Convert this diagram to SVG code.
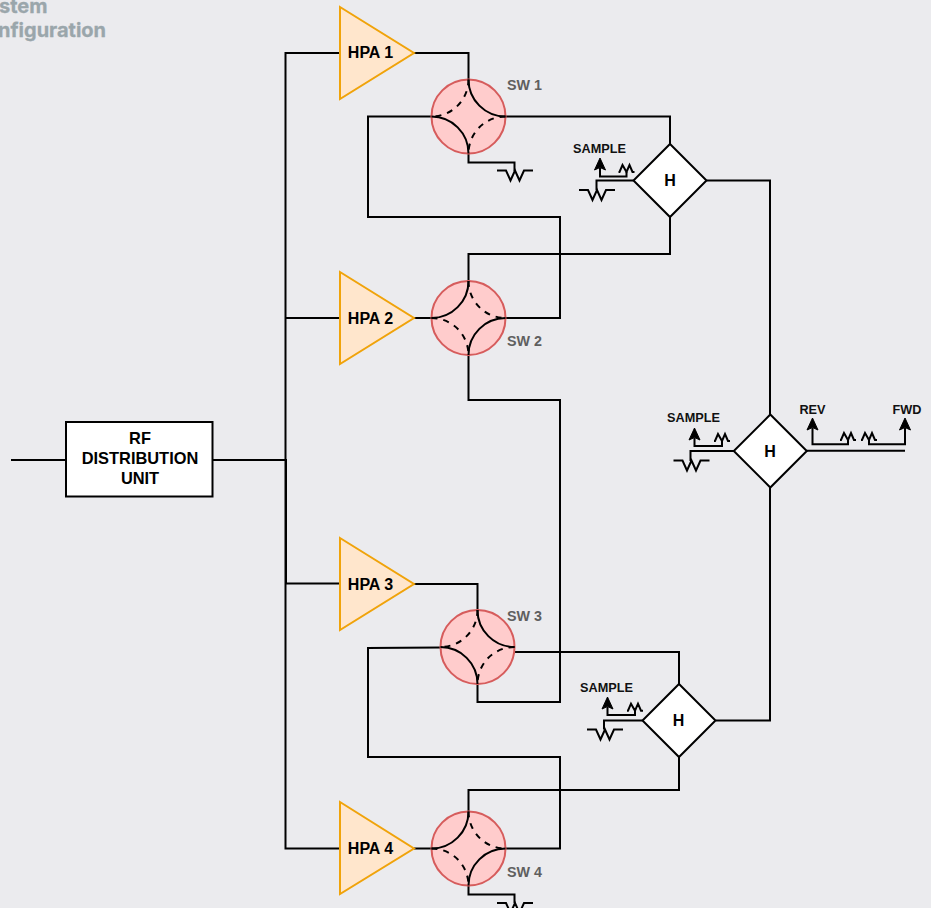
<svg xmlns="http://www.w3.org/2000/svg" width="931" height="908" viewBox="0 0 931 908">
<style>
text{font-family:"Liberation Sans",Arial,sans-serif;font-weight:700;text-anchor:middle;fill:#000}
.w{fill:none;stroke:#000;stroke-width:2}
.m{fill:none;stroke:#000;stroke-width:2}
.t{font-size:16px}
.rf{font-size:16.400px}
.s{font-size:12.700px;fill:#111}
.sw{font-size:14.300px;fill:#5f5f5f;text-anchor:start}
.title{font-family:Inter,"Liberation Sans",sans-serif;font-size:20px;fill:#9aa6ab;stroke:#9aa6ab;stroke-width:.3;text-anchor:start}
.hpa{fill:#ffe6cc;stroke:#f0a30a;stroke-width:2}
.sc{fill:#ffcccc;stroke:#d65c5c;stroke-width:2}
.d{fill:#fff;stroke:#000;stroke-width:2}
.dash{fill:none;stroke:#000;stroke-width:2;stroke-dasharray:6 6}
</style>
<defs>
<g id="res"><path class="w" d="M-18,0H-9L-4.500,10L0,0L4.500,10L9,0H18"/></g>
<g id="mini"><path class="m" d="M-8,0H-7L-4,-7L0,0L3,-7L6,0H8"/></g>
<path id="arr" d="M0,0L5.500,12L0,9.500L-5.500,12Z" fill="#000" stroke="#000"/>
<g id="swA"><circle class="sc" r="37"/><path class="w" d="M0,-37A37,37 0 0 0 37,0M-37,0A37,37 0 0 1 0,37"/><path class="dash" d="M0,-37A37,37 0 0 1 -37,0M37,0A37,37 0 0 0 0,37"/></g>
<g id="swB"><circle class="sc" r="37"/><path class="w" d="M0,-37A37,37 0 0 1 -37,0M37,0A37,37 0 0 0 0,37"/><path class="dash" d="M0,-37A37,37 0 0 0 37,0M-37,0A37,37 0 0 1 0,37"/></g>
</defs>
<rect width="931" height="908" fill="#ebebee"/>
<text class="title" x="-1" y="13">stem</text>
<text class="title" x="-2" y="37">nfiguration</text>
<g id="connectors">
<path class="w" d="M11,460H66"/>
<path class="w" d="M213,460H285.500V53H340"/>
<path class="w" d="M285.500,318H340"/>
<path class="w" d="M213,460H286V583.500H340"/>
<path class="w" d="M285.500,460V848.500H340"/>
<path class="w" d="M414,53H468.500V80"/>
<path class="w" d="M414,318H431.500"/>
<path class="w" d="M414,584H477.500V610"/>
<path class="w" d="M414,848.500H431.500"/>
<path class="w" d="M505.500,116.500H670V144"/>
<path class="w" d="M431.500,116.500H368V217H560V318H505.500"/>
<path class="w" d="M468.500,153.500V162.500H514.500V171"/>
<path class="w" d="M670,217V254H468.500V281"/>
<path class="w" d="M706.500,180.500H770V414.500"/>
<path class="w" d="M468.500,355V400H560V702H477.500V684"/>
<path class="w" d="M514.500,652H679V684"/>
<path class="w" d="M440.500,647.500L368,648V757H560V848.500H505.500"/>
<path class="w" d="M679,757V790H468.500V812"/>
<path class="w" d="M716,720.500H770V487.500"/>
<path class="w" d="M468.500,885.500V894.500H514.500V903"/>
<path class="w" d="M633.500,180.500H596.500V190"/>
<path class="w" d="M600,168V176.500H626.500V172"/>
<path class="w" d="M734,451H690.500V461"/>
<path class="w" d="M694.500,438V446H722V441"/>
<path class="w" d="M806.500,450.700H905"/>
<path class="w" d="M812.500,428V444.300H848V440M869,440V444.300H905V428"/>
<path class="w" d="M642.500,720.500H604V729.500"/>
<path class="w" d="M607.500,707V715H635V710.700"/>
<use href="#arr" x="600" y="158"/>
<use href="#arr" x="694.500" y="428"/>
<use href="#arr" x="812.500" y="418"/>
<use href="#arr" x="905" y="418"/>
<use href="#arr" x="607.500" y="697"/>
<use href="#res" x="515" y="170.500"/>
<use href="#res" x="597" y="190"/>
<use href="#res" x="691.500" y="460.500"/>
<use href="#res" x="605" y="729.500"/>
<use href="#res" x="515" y="903"/>
<use href="#mini" x="626.500" y="172"/>
<use href="#mini" x="722" y="441"/>
<use href="#mini" x="848" y="440"/>
<use href="#mini" x="869" y="440"/>
<use href="#mini" x="635" y="710.700"/>
</g>
<g id="rf"><rect x="66" y="422" width="146.500" height="74.500" fill="#fff" stroke="#000" stroke-width="2"/><text class="rf" x="140" y="444">RF</text><text class="rf" x="140" y="464">DISTRIBUTION</text><text class="rf" x="140" y="484">UNIT</text></g>
<g id="hpa1"><path class="hpa" d="M340,7L414,53L340,99Z"/><text class="t" x="370.500" y="58">HPA 1</text></g>
<g id="hpa2"><path class="hpa" d="M340,272L414,318L340,364Z"/><text class="t" x="370.500" y="324">HPA 2</text></g>
<g id="hpa3"><path class="hpa" d="M340,538L414,584L340,630Z"/><text class="t" x="370.500" y="590">HPA 3</text></g>
<g id="hpa4"><path class="hpa" d="M340,802L414,848.500L340,894Z"/><text class="t" x="370.500" y="854">HPA 4</text></g>
<g id="sw1"><use href="#swA" x="468.500" y="116.500"/><text class="sw" x="507" y="90">SW 1</text></g>
<g id="sw2"><use href="#swB" x="468.500" y="318"/><text class="sw" x="507" y="346">SW 2</text></g>
<g id="sw3"><use href="#swA" x="477.500" y="647"/><text class="sw" x="507" y="621">SW 3</text></g>
<g id="sw4"><use href="#swB" x="468.500" y="848.500"/><text class="sw" x="507" y="877">SW 4</text></g>
<g id="h1"><path class="d" d="M670,144L706.500,180.500L670,217L633.500,180.500Z"/><text class="t" x="670" y="186">H</text></g>
<g id="h2"><path class="d" d="M770.300,414.500L806.800,451L770.300,487.500L733.800,451Z"/><text class="t" x="770" y="457">H</text></g>
<g id="h3"><path class="d" d="M679,684L715.500,720.500L679,757L642.500,720.500Z"/><text class="t" x="678.500" y="726">H</text></g>
<text class="s" x="599.500" y="153">SAMPLE</text>
<text class="s" x="693.500" y="422">SAMPLE</text>
<text class="s" x="606.500" y="692">SAMPLE</text>
<text class="s" x="812.500" y="414">REV</text>
<text class="s" x="907" y="414">FWD</text>
</svg>
